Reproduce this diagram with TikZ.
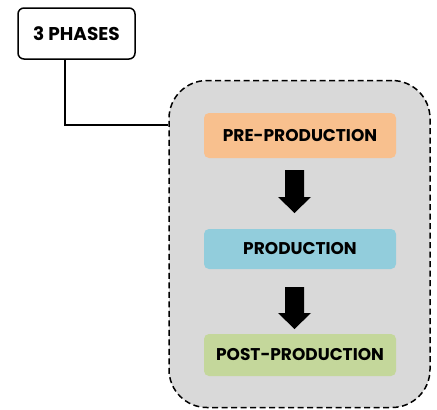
\documentclass[tikz,border=0pt]{standalone}
\usepackage{fontspec}
\setmainfont{Poppins}
\tikzset{
  phase/.style={rounded corners=5pt, minimum width=192pt, text=black, font=\bfseries\fontsize{17}{19}\selectfont, inner sep=0pt},
  bigarrow/.style={fill=black},
}
\definecolor{preC}{HTML}{F8C08E}
\definecolor{prodC}{HTML}{92CDDC}
\definecolor{postC}{HTML}{C4D79B}
\definecolor{contC}{HTML}{D9D9D9}
\begin{document}
\begin{tikzpicture}[x=1pt,y=-1pt]
\useasboundingbox (0,0) rectangle (437,410);
% container
\node[draw=black, fill=contC, dash pattern=on 6pt off 3.5pt, line width=1.5pt, rounded corners=38pt, minimum width=261pt, minimum height=327pt, inner sep=0pt] (cont) at (299.5,244) {};
% title
\node[draw=black, line width=1.5pt, rounded corners=6pt, minimum width=117pt, minimum height=51pt, inner sep=0pt, font=\bfseries\fontsize{18.5}{20}\selectfont] (title) at (76.5,33.5) {3 PHASES};
\coordinate (bend) at (65,125);
\draw[line width=1.5pt] (title.south -| bend) -- (bend) -- (bend -| cont.west);
% phases
\node[phase, fill=preC, minimum height=45pt] (pre) at (300,135.5) {PRE-PRODUCTION};
\node[phase, fill=prodC, minimum height=40pt] (prod) at (300,249) {PRODUCTION};
\node[phase, fill=postC, minimum height=42pt] (post) at (300,355) {POST-PRODUCTION};
% arrows
\fill[bigarrow] (285,170) -- (304,170) -- (304,197) -- (311,197) -- (294.5,213) -- (278,197) -- (285,197) -- cycle;
\fill[bigarrow] (285,287) -- (304,287) -- (304,313) -- (311,313) -- (294.5,329) -- (278,313) -- (285,313) -- cycle;
\end{tikzpicture}
\end{document}
